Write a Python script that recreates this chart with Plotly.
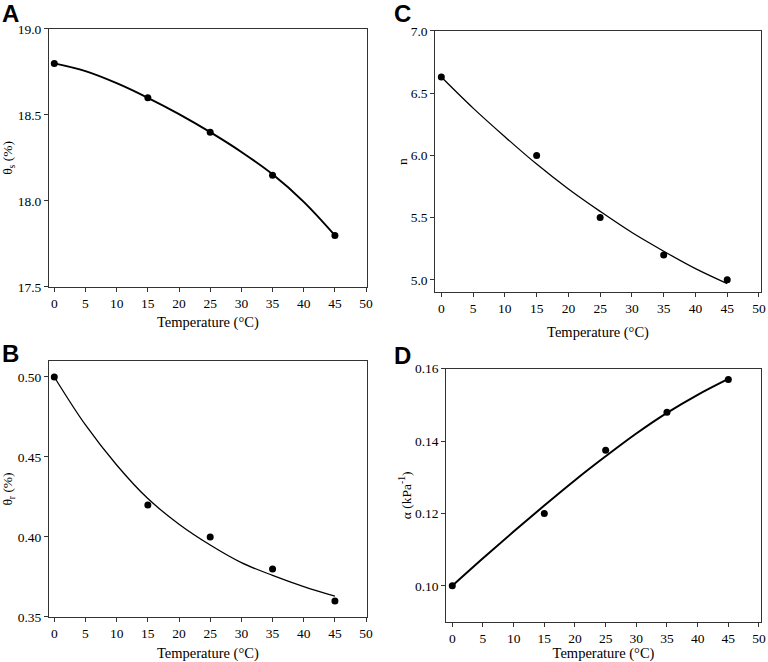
import plotly.graph_objects as go
from plotly.subplots import make_subplots

# measured temperatures (°C)
temp = [0, 15, 25, 35, 45]

# measured parameters
theta_s = [18.8, 18.6, 18.4, 18.15, 17.8]
theta_r = [0.50, 0.42, 0.40, 0.38, 0.36]
n_vals = [6.63, 6.0, 5.5, 5.2, 5.0]
alpha = [0.100, 0.120, 0.1375, 0.148, 0.157]

# fitted curves, every 5 °C
fit_temp = [0, 5, 10, 15, 20, 25, 30, 35, 40, 45]
fit_theta_s = [18.800, 18.755, 18.685, 18.600, 18.505, 18.400, 18.285, 18.155, 17.995, 17.800]
fit_theta_r = [0.500, 0.470, 0.445, 0.424, 0.408, 0.395, 0.384, 0.376, 0.369, 0.363]
fit_n = [6.63, 6.38, 6.15, 5.93, 5.73, 5.55, 5.38, 5.23, 5.09, 4.97]
fit_alpha = [0.1000, 0.1076, 0.1150, 0.1222, 0.1292, 0.1358, 0.1421, 0.1478, 0.1528, 0.1572]

serif = "Liberation Serif, Times New Roman, serif"
tickfont = dict(family=serif, size=13.5, color="black")

fig = make_subplots(rows=2, cols=2)

panels = [
    # row, col, y, fit, line width, y title, y range, tick format, dtick,
    # x domain, y domain, x range, x title standoff, y title standoff
    (1, 1, theta_s, fit_theta_s, 2.0, "θ<sub>s</sub> (%)", [17.5, 19.0], ".1f", 0.5,
     [0.0638, 0.4775], [0.5665, 0.9562], [-0.85, 50.1], 6, 4),
    (1, 2, n_vals, fit_n, 1.3, "n", [4.9, 7.0], ".1f", 0.5,
     [0.5668, 0.9905], [0.5585, 0.9532], [-0.95, 50.27], 11, 0),
    (2, 1, theta_r, fit_theta_r, 1.3, "θ<sub>r</sub> (%)", [0.35, 0.51], ".2f", 0.05,
     [0.0638, 0.4775], [0.0680, 0.4547], [-0.85, 50.1], 9, 4),
    (2, 2, alpha, fit_alpha, 2.0, "α (kPa<sup>-1</sup>)", [0.09, 0.16], ".2f", 0.02,
     [0.5811, 0.9905], [0.0604, 0.4430], [-0.98, 50.28], 7, 0),
]

for r, c, yv, fit, lw, ytitle, yrange, fmt, dt, xdom, ydom, xrange, xs, ys in panels:
    fig.add_trace(go.Scatter(x=fit_temp, y=fit, mode="lines",
                             line=dict(color="black", width=lw, shape="spline"),
                             showlegend=False), row=r, col=c)
    fig.add_trace(go.Scatter(x=temp, y=yv, mode="markers",
                             marker=dict(color="black", size=7),
                             showlegend=False), row=r, col=c)
    fig.update_xaxes(domain=xdom, range=xrange, dtick=5, tick0=0, tickfont=tickfont,
                     title=dict(text="Temperature (°C)", standoff=xs,
                                font=dict(family=serif, size=14.5, color="black")),
                     row=r, col=c)
    fig.update_yaxes(domain=ydom, range=yrange, dtick=dt, tickformat=fmt, tickfont=tickfont,
                     title=dict(text=ytitle, standoff=ys,
                                font=dict(family=serif, size=13.5, color="black")),
                     row=r, col=c)

fig.update_xaxes(showline=True, mirror=True, linecolor="#333", linewidth=1,
                 ticks="outside", ticklen=4, tickcolor="#333", showgrid=False,
                 zeroline=False, automargin=False)
fig.update_yaxes(showline=True, mirror=True, linecolor="#333", linewidth=1,
                 ticks="outside", ticklen=4, tickcolor="#333", showgrid=False,
                 zeroline=False, automargin=False)

# panel letters
for letter, px_, py_ in [("A", 0.0, 1.003), ("C", 0.511, 1.003), ("B", 0.0, 0.49), ("D", 0.511, 0.487)]:
    fig.add_annotation(text="<b>" + letter + "</b>", x=px_, y=py_, xref="paper", yref="paper",
                       xanchor="left", yanchor="top", showarrow=False,
                       font=dict(family="Liberation Sans", size=24, color="black"))

fig.update_layout(width=768, height=662, margin=dict(l=0, r=0, t=0, b=0),
                  plot_bgcolor="white", paper_bgcolor="white")

# drop the browser's default page margin so the figure fills the window
fig.write_html("out.html", config={"displayModeBar": False},
               post_script="document.body.style.margin = '0';")
